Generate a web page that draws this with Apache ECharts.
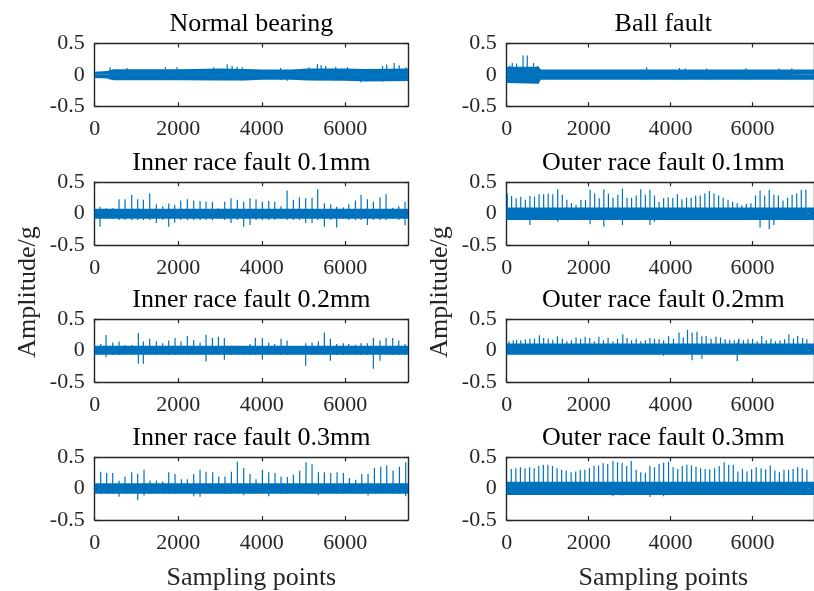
<!DOCTYPE html>
<html>
<head>
<meta charset="utf-8">
<script src="https://cdn.jsdelivr.net/npm/echarts@6/dist/echarts.min.js"></script>
<style>
html, body { margin: 0; padding: 0; background: #fff; }
#main { width: 814px; height: 591px; }
</style>
</head>
<body>
<div id="main"></div>
<script>
"use strict";
// panel order: row by row, left column then right column
let titles = ['Normal bearing', 'Ball fault', 'Inner race fault 0.1mm', 'Outer race fault 0.1mm',
              'Inner race fault 0.2mm', 'Outer race fault 0.2mm', 'Inner race fault 0.3mm', 'Outer race fault 0.3mm'];
let xTicks = [0, 2000, 4000, 6000];
let yTicks = [-0.5, 0, 0.5];
let sampleCount = 7500;

// noise band: [sample, upper, lower]
let normalBand = [[0,0.05,-0.05],[300,0.06,-0.06],[450,0.09,-0.085],[2000,0.09,-0.085],[3000,0.10,-0.09],[3600,0.095,-0.09],[4000,0.085,-0.08],[4700,0.085,-0.08],[5100,0.10,-0.09],[6000,0.10,-0.095],[6500,0.095,-0.105],[7500,0.10,-0.10]];
let ballBand = [[0,0.13,-0.13],[780,0.13,-0.14],[830,0.085,-0.08],[7500,0.085,-0.08]];
let inner01Band = [[0,0.08,-0.08],[7500,0.08,-0.08]];
let outer01Band = [[0,0.10,-0.10],[7500,0.10,-0.10]];
let inner02Band = [[0,0.08,-0.065],[7500,0.08,-0.065]];
let outer02Band = [[0,0.115,-0.065],[7500,0.115,-0.065]];
let inner03Band = [[0,0.085,-0.08],[7500,0.085,-0.08]];
let outer03Band = [[0,0.11,-0.10],[7500,0.11,-0.10]];

// impulses: [sample, peak, trough]
let normalSpikes = [[370,0.12,-0.08],[770,0.11,-0.08],[1690,0.12,-0.08],[1970,0.12,-0.08],[2850,0.12,-0.08],[3170,0.165,-0.08],[3290,0.14,-0.08],[3410,0.13,-0.08],[3530,0.12,-0.09],[4450,0.11,-0.08],[4610,0.08,-0.095],[5130,0.12,-0.08],[5330,0.175,-0.09],[5420,0.155,-0.09],[5530,0.14,-0.08],[5770,0.13,-0.09],[6050,0.12,-0.09],[6370,0.09,-0.12],[6890,0.14,-0.11],[6990,0.165,-0.09],[7170,0.19,-0.09],[7290,0.155,-0.09],[7450,0.12,-0.09]];
let ballSpikes = [[80,0.15,-0.10],[135,0.19,-0.12],[242,0.18,-0.10],[350,0.12,-0.10],[399,0.31,-0.11],[502,0.31,-0.10],[654,0.19,-0.10],[757,0.14,-0.08],[3416,0.12,-0.07],[4216,0.11,-0.07],[4360,0.10,-0.07],[4880,0.10,-0.07],[5840,0.105,-0.08],[6640,0.10,-0.07],[6960,0.105,-0.07]];
let inner01Spikes = [[128,0.11,-0.21],[271,0.085,-0.08],[431,0.085,-0.08],[583,0.23,-0.10],[726,0.23,-0.10],[886,0.30,-0.10],[1029,0.23,-0.10],[1165,0.22,-0.10],[1317,0.32,-0.10],[1476,0.15,-0.15],[1628,0.12,-0.10],[1772,0.16,-0.21],[1915,0.14,-0.14],[2059,0.21,-0.10],[2218,0.23,-0.10],[2370,0.21,-0.10],[2522,0.20,-0.10],[2665,0.19,-0.10],[2817,0.19,-0.10],[2953,0.085,-0.08],[3112,0.19,-0.10],[3264,0.245,-0.15],[3415,0.22,-0.10],[3567,0.19,-0.21],[3719,0.245,-0.18],[3862,0.23,-0.10],[4014,0.19,-0.10],[4166,0.20,-0.10],[4309,0.19,-0.10],[4461,0.12,-0.08],[4605,0.37,-0.10],[4756,0.22,-0.10],[4900,0.26,-0.10],[5051,0.245,-0.15],[5203,0.255,-0.15],[5339,0.39,-0.10],[5498,0.165,-0.21],[5650,0.15,-0.10],[5793,0.11,-0.22],[5953,0.10,-0.08],[6081,0.15,-0.10],[6241,0.21,-0.10],[6376,0.30,-0.10],[6528,0.23,-0.18],[6671,0.19,-0.10],[6831,0.26,-0.10],[6975,0.31,-0.10],[7134,0.095,-0.08],[7278,0.12,-0.10],[7429,0.19,-0.19]];
let outer01Spikes = [[16,0.32,-0.10],[120,0.28,-0.10],[231,0.245,-0.10],[343,0.27,-0.10],[455,0.22,-0.10],[567,0.28,-0.18],[678,0.27,-0.10],[790,0.31,-0.10],[902,0.31,-0.10],[1013,0.32,-0.10],[1125,0.31,-0.10],[1245,0.39,-0.13],[1357,0.30,-0.10],[1468,0.22,-0.10],[1580,0.165,-0.10],[1692,0.14,-0.10],[1811,0.22,-0.10],[1923,0.22,-0.10],[2035,0.38,-0.17],[2147,0.32,-0.10],[2258,0.245,-0.10],[2370,0.39,-0.21],[2482,0.32,-0.10],[2594,0.255,-0.10],[2713,0.30,-0.10],[2825,0.40,-0.18],[2937,0.255,-0.10],[3048,0.255,-0.10],[3160,0.29,-0.10],[3272,0.39,-0.10],[3384,0.30,-0.10],[3495,0.38,-0.18],[3607,0.29,-0.13],[3719,0.19,-0.10],[3830,0.245,-0.10],[3942,0.26,-0.10],[4054,0.255,-0.10],[4166,0.31,-0.10],[4277,0.23,-0.10],[4389,0.255,-0.10],[4501,0.255,-0.10],[4612,0.29,-0.10],[4724,0.29,-0.10],[4836,0.32,-0.10],[4948,0.36,-0.10],[5059,0.32,-0.10],[5171,0.29,-0.10],[5283,0.255,-0.10],[5402,0.22,-0.10],[5514,0.19,-0.10],[5626,0.165,-0.10],[5738,0.13,-0.10],[5849,0.155,-0.10],[5961,0.165,-0.10],[6073,0.29,-0.10],[6184,0.37,-0.22],[6296,0.29,-0.10],[6408,0.38,-0.25],[6520,0.30,-0.18],[6631,0.29,-0.10],[6743,0.21,-0.10],[6855,0.255,-0.10],[6966,0.30,-0.10],[7078,0.32,-0.10],[7190,0.38,-0.10],[7302,0.38,-0.10]];
let inner02Spikes = [[144,0.105,-0.07],[271,0.25,-0.105],[431,0.13,-0.07],[583,0.145,-0.07],[726,0.09,-0.07],[886,0.09,-0.07],[1045,0.28,-0.21],[1165,0.145,-0.21],[1317,0.19,-0.07],[1476,0.15,-0.07],[1628,0.12,-0.07],[1772,0.16,-0.07],[1923,0.20,-0.07],[2067,0.145,-0.07],[2218,0.23,-0.07],[2370,0.17,-0.07],[2522,0.13,-0.07],[2665,0.255,-0.175],[2817,0.20,-0.07],[2961,0.22,-0.07],[3104,0.20,-0.145],[3264,0.08,-0.07],[3415,0.08,-0.07],[3567,0.07,-0.07],[3719,0.105,-0.07],[3846,0.20,-0.07],[4014,0.20,-0.145],[4166,0.13,-0.07],[4309,0.105,-0.07],[4461,0.19,-0.07],[4605,0.16,-0.07],[4756,0.07,-0.07],[4900,0.07,-0.07],[5051,0.12,-0.24],[5203,0.13,-0.07],[5355,0.145,-0.07],[5498,0.29,-0.07],[5642,0.19,-0.16],[5793,0.105,-0.07],[5953,0.12,-0.07],[6081,0.105,-0.07],[6241,0.095,-0.07],[6376,0.12,-0.07],[6528,0.12,-0.07],[6671,0.20,-0.29],[6831,0.16,-0.16],[6975,0.20,-0.07],[7134,0.20,-0.07],[7278,0.16,-0.07],[7429,0.105,-0.07]];
let outer02Spikes = [[56,0.15,-0.06],[160,0.165,-0.06],[240,0.175,-0.06],[343,0.165,-0.06],[455,0.18,-0.06],[567,0.19,-0.06],[678,0.19,-0.06],[798,0.245,-0.06],[902,0.20,-0.06],[1013,0.19,-0.06],[1125,0.175,-0.06],[1237,0.23,-0.06],[1357,0.19,-0.06],[1468,0.15,-0.06],[1580,0.165,-0.06],[1692,0.21,-0.06],[1803,0.19,-0.06],[1915,0.22,-0.06],[2027,0.20,-0.06],[2139,0.15,-0.06],[2250,0.22,-0.06],[2362,0.165,-0.06],[2474,0.20,-0.06],[2594,0.15,-0.06],[2705,0.19,-0.06],[2833,0.26,-0.06],[2937,0.20,-0.06],[3048,0.165,-0.06],[3160,0.19,-0.06],[3272,0.15,-0.06],[3384,0.165,-0.06],[3495,0.20,-0.06],[3607,0.19,-0.06],[3719,0.18,-0.06],[3830,0.165,-0.08],[3950,0.23,-0.06],[4070,0.19,-0.06],[4205,0.29,-0.06],[4309,0.21,-0.06],[4413,0.335,-0.06],[4525,0.29,-0.155],[4644,0.30,-0.06],[4764,0.23,-0.13],[4868,0.235,-0.06],[4988,0.19,-0.06],[5107,0.22,-0.06],[5219,0.21,-0.06],[5331,0.18,-0.06],[5442,0.175,-0.06],[5554,0.165,-0.06],[5626,0.12,-0.165],[5666,0.19,-0.06],[5777,0.165,-0.06],[5889,0.18,-0.06],[6001,0.19,-0.06],[6112,0.15,-0.06],[6224,0.235,-0.06],[6336,0.165,-0.06],[6448,0.19,-0.06],[6560,0.15,-0.06],[6671,0.165,-0.06],[6783,0.18,-0.06],[6887,0.26,-0.06],[6998,0.19,-0.06],[7102,0.235,-0.06],[7222,0.20,-0.06],[7326,0.18,-0.06]];
let inner03Spikes = [[144,0.27,-0.08],[287,0.25,-0.08],[431,0.25,-0.08],[583,0.125,-0.13],[726,0.195,-0.08],[886,0.26,-0.08],[1029,0.235,-0.185],[1181,0.30,-0.11],[1325,0.13,-0.08],[1476,0.13,-0.08],[1628,0.115,-0.08],[1772,0.26,-0.08],[1923,0.235,-0.08],[2075,0.15,-0.08],[2218,0.15,-0.08],[2370,0.23,-0.12],[2522,0.30,-0.13],[2665,0.27,-0.08],[2825,0.26,-0.08],[2969,0.195,-0.08],[3120,0.195,-0.08],[3272,0.27,-0.08],[3415,0.43,-0.08],[3567,0.33,-0.105],[3719,0.235,-0.08],[3862,0.15,-0.08],[4014,0.30,-0.08],[4166,0.26,-0.12],[4317,0.25,-0.08],[4461,0.195,-0.08],[4612,0.185,-0.08],[4756,0.22,-0.08],[4908,0.285,-0.08],[5059,0.42,-0.08],[5203,0.39,-0.08],[5355,0.26,-0.105],[5498,0.26,-0.08],[5650,0.25,-0.08],[5802,0.26,-0.08],[5953,0.25,-0.08],[6097,0.17,-0.08],[6249,0.14,-0.08],[6392,0.23,-0.08],[6544,0.235,-0.11],[6695,0.33,-0.08],[6847,0.35,-0.08],[6991,0.37,-0.08],[7142,0.29,-0.08],[7294,0.35,-0.08],[7445,0.42,-0.12]];
let outer03Spikes = [[112,0.315,-0.08],[223,0.325,-0.08],[335,0.34,-0.08],[447,0.325,-0.08],[559,0.34,-0.08],[670,0.325,-0.08],[782,0.36,-0.08],[894,0.38,-0.08],[1005,0.38,-0.08],[1117,0.36,-0.08],[1229,0.325,-0.08],[1341,0.30,-0.08],[1452,0.29,-0.08],[1572,0.26,-0.08],[1684,0.275,-0.08],[1795,0.30,-0.08],[1907,0.30,-0.08],[2019,0.325,-0.08],[2131,0.36,-0.08],[2242,0.37,-0.08],[2354,0.405,-0.08],[2466,0.395,-0.08],[2594,0.44,-0.12],[2705,0.42,-0.08],[2817,0.415,-0.11],[2929,0.36,-0.08],[3040,0.44,-0.08],[3160,0.30,-0.08],[3272,0.26,-0.08],[3384,0.25,-0.08],[3495,0.36,-0.135],[3607,0.34,-0.08],[3719,0.395,-0.08],[3830,0.415,-0.12],[3950,0.43,-0.08],[4062,0.34,-0.08],[4174,0.315,-0.08],[4285,0.36,-0.08],[4397,0.38,-0.08],[4509,0.37,-0.08],[4620,0.35,-0.08],[4732,0.325,-0.08],[4844,0.315,-0.08],[4956,0.31,-0.08],[5075,0.325,-0.08],[5187,0.36,-0.08],[5307,0.42,-0.08],[5418,0.38,-0.08],[5530,0.38,-0.08],[5642,0.275,-0.08],[5754,0.315,-0.08],[5865,0.275,-0.08],[5977,0.31,-0.08],[6089,0.34,-0.08],[6208,0.325,-0.08],[6320,0.31,-0.08],[6432,0.37,-0.08],[6544,0.29,-0.08],[6655,0.26,-0.08],[6767,0.30,-0.08],[6879,0.30,-0.08],[6990,0.315,-0.08],[7102,0.34,-0.08],[7214,0.325,-0.08],[7326,0.30,-0.08]];

let bands = [normalBand, ballBand, inner01Band, outer01Band, inner02Band, outer02Band, inner03Band, outer03Band];
let spikes = [normalSpikes, ballSpikes, inner01Spikes, outer01Spikes, inner02Spikes, outer02Spikes, inner03Spikes, outer03Spikes];

let blue = '#0072BD';
let ink = '#262626';
let serif = '"Liberation Serif", "Times New Roman", serif';
let colLeft = [94.7, 506.7];
let rowTop = [43.5, 182.3, 319.3, 457.3];
let plotW = 313.3;
let plotH = 62.7;

// vertical strokes up to the peak and down to the trough, back on zero between impulses
function spikePath(list) {
    let pts = [];
    list.forEach(function (s) {
        pts.push([s[0], 0], [s[0], s[1]], [s[0], s[2]], [s[0], 0]);
    });
    return pts;
}

function frameAxis(i, pos, isX, labels) {
    let ticks = isX ? xTicks : yTicks;
    return {
        gridIndex: i,
        type: 'value',
        position: pos,
        min: isX ? 0 : -0.5,
        max: isX ? sampleCount : 0.5,
        interval: isX ? 2000 : 0.5,
        axisLine: { show: true, onZero: false, lineStyle: { color: ink, width: 1.4 } },
        axisTick: { show: true, inside: true, length: 4, customValues: ticks, lineStyle: { color: ink, width: 1.2 } },
        splitLine: { show: false },
        axisLabel: {
            show: labels,
            fontFamily: serif,
            fontSize: 22,
            color: ink,
            margin: isX ? 12 : 10,
            customValues: ticks,
            formatter: function (v) { return String(v); }
        }
    };
}

let grids = [], xAxes = [], yAxes = [], series = [], graphics = [];
for (let i = 0; i < 8; i++) {
    let r = Math.floor(i / 2);
    let c = i % 2;
    grids.push({ left: colLeft[c], top: rowTop[r], width: plotW, height: plotH });
    xAxes.push(frameAxis(i, 'bottom', true, true));
    xAxes.push(frameAxis(i, 'top', true, false));
    yAxes.push(frameAxis(i, 'left', false, true));
    yAxes.push(frameAxis(i, 'right', false, false));

    let common = {
        type: 'line', xAxisIndex: 2 * i, yAxisIndex: 2 * i,
        symbol: 'none', silent: true, animation: false
    };
    series.push(Object.assign({}, common, {
        data: bands[i].map(function (b) { return [b[0], b[1]]; }),
        lineStyle: { width: 0 },
        areaStyle: { color: blue, opacity: 1 }
    }));
    series.push(Object.assign({}, common, {
        data: bands[i].map(function (b) { return [b[0], b[2]]; }),
        lineStyle: { width: 0 },
        areaStyle: { color: blue, opacity: 1 }
    }));
    series.push(Object.assign({}, common, {
        data: spikePath(spikes[i]),
        lineStyle: { color: blue, width: 1.2 }
    }));

    graphics.push({
        type: 'text',
        x: colLeft[c] + plotW / 2,
        y: rowTop[r] - 19,
        style: { text: titles[i], fontFamily: serif, fontSize: 26, fill: '#000', align: 'center', verticalAlign: 'middle' }
    });
}

// shared axis names
for (let c = 0; c < 2; c++) {
    graphics.push({
        type: 'text',
        x: colLeft[c] + plotW / 2,
        y: 578,
        style: { text: 'Sampling points', fontFamily: serif, fontSize: 26, fill: ink, align: 'center', verticalAlign: 'middle' }
    });
    graphics.push({
        type: 'text',
        x: colLeft[c] - 66.7,
        y: 292,
        rotation: Math.PI / 2,
        style: { text: 'Amplitude/g', fontFamily: serif, fontSize: 26, fill: ink, align: 'center', verticalAlign: 'middle' }
    });
}

let myChart = echarts.init(document.getElementById('main'));
myChart.setOption({
    animation: false,
    backgroundColor: '#fff',
    grid: grids,
    xAxis: xAxes,
    yAxis: yAxes,
    series: series,
    graphic: graphics
});
</script>
</body>
</html>
